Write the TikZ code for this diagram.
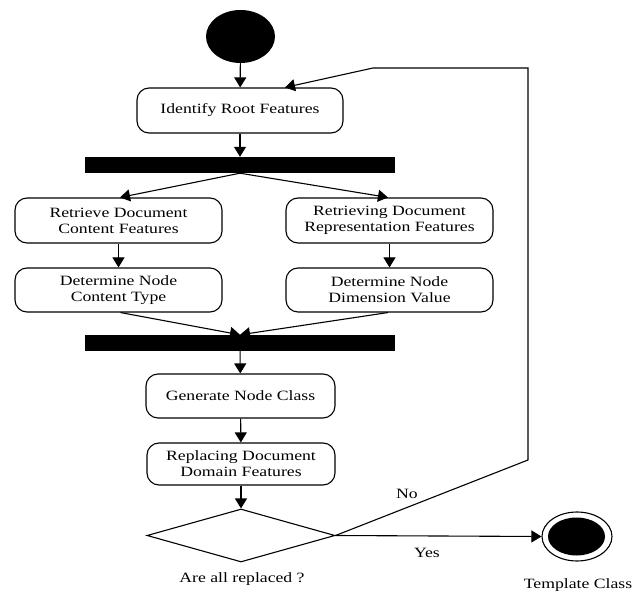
\documentclass[tikz,border=0pt]{standalone}
\usepackage{fontspec}
\setmainfont{Liberation Serif}[FakeStretch=1.245]
\usetikzlibrary{arrows.meta,shapes.geometric}
\begin{document}
\begin{tikzpicture}[x=1pt,y=-1pt,
  txt/.style={font=\fontsize{14.2}{16}\selectfont},
  act/.style={draw,rounded corners=12pt,line width=1.1pt,align=center,inner sep=0pt,txt},
  bar/.style={fill=black,draw=none,inner sep=0pt,minimum width=310pt,minimum height=16pt},
  conn/.style={line width=1.1pt},
  arr/.style={conn,-{Triangle[length=10pt,width=12pt]}},
  lbl/.style={txt,inner sep=0pt,anchor=base}]
\useasboundingbox (0,0) rectangle (633,591);
% nodes
\node[ellipse,fill=black,minimum width=69pt,minimum height=53pt,inner sep=0pt] (start) at (240.5,36.5) {};
\node[act,minimum width=206pt,minimum height=45pt] (root) at (240,110.5) {Identify Root Features};
\node[bar] (fork) at (240,165) {};
\node[act,minimum width=207pt,minimum height=45pt] (lb1) at (118.5,220.5) {Retrieve Document\\Content Features};
\node[act,minimum width=207pt,minimum height=45pt] (rb1) at (389.5,220.5) {Retrieving Document\\Representation Features};
\node[act,minimum width=207pt,minimum height=44pt] (lb2) at (118.5,290) {Determine Node\\Content Type};
\node[act,minimum width=207pt,minimum height=44pt] (rb2) at (389.5,290) {Determine Node\\Dimension Value};
\node[bar] (join) at (240,343) {};
\node[act,minimum width=189pt,minimum height=44pt] (gen) at (240.5,396) {Generate Node Class};
\node[act,minimum width=188pt,minimum height=42pt] (repl) at (241,464) {Replacing Document\\Domain Features};
\node[diamond,draw,line width=1.1pt,minimum width=188pt,minimum height=53pt,inner sep=0pt] (dec) at (241,535.5) {};
\node[lbl] (declbl) at (242,582.5) {Are all replaced ?};
\node[ellipse,draw,line width=1.1pt,minimum width=70pt,minimum height=49pt,inner sep=0pt] (endo) at (577,536.5) {};
\node[ellipse,fill=black,minimum width=57pt,minimum height=38pt,inner sep=0pt] (endi) at (576.5,536.5) {};
\node[lbl] (endlbl) at (578,588) {Template Class};
\node[lbl] (yes) at (427,557) {Yes};
\node[lbl] (no) at (407,498) {No};
\coordinate (c1) at (528,460);
\coordinate (c2) at (528,68);
\coordinate (c3) at (373,68);
% connectors
\draw[arr] (start) -- (root);
\draw[arr] (root) -- (fork);
\draw[arr] (fork.south) -- ([xshift=1.5pt]lb1.north);
\draw[arr] (fork.south) -- ([xshift=-1.5pt]rb1.north);
\draw[arr] (lb1) -- (lb2);
\draw[arr] (rb1) -- (rb2);
\draw[arr] ([xshift=2pt]lb2.south) -- (join.north);
\draw[arr] ([xshift=-1.5pt]rb2.south) -- (join.north);
\draw[arr] (join) -- (gen);
\draw[arr] (gen) -- (repl);
\draw[arr] (repl) -- (dec);
\draw[arr] (dec.east) -- (endo.west);
\draw[arr] (dec.east) -- (c1) -- (c2) -- (c3) -- ([xshift=45pt]root.north);
\end{tikzpicture}
\end{document}
